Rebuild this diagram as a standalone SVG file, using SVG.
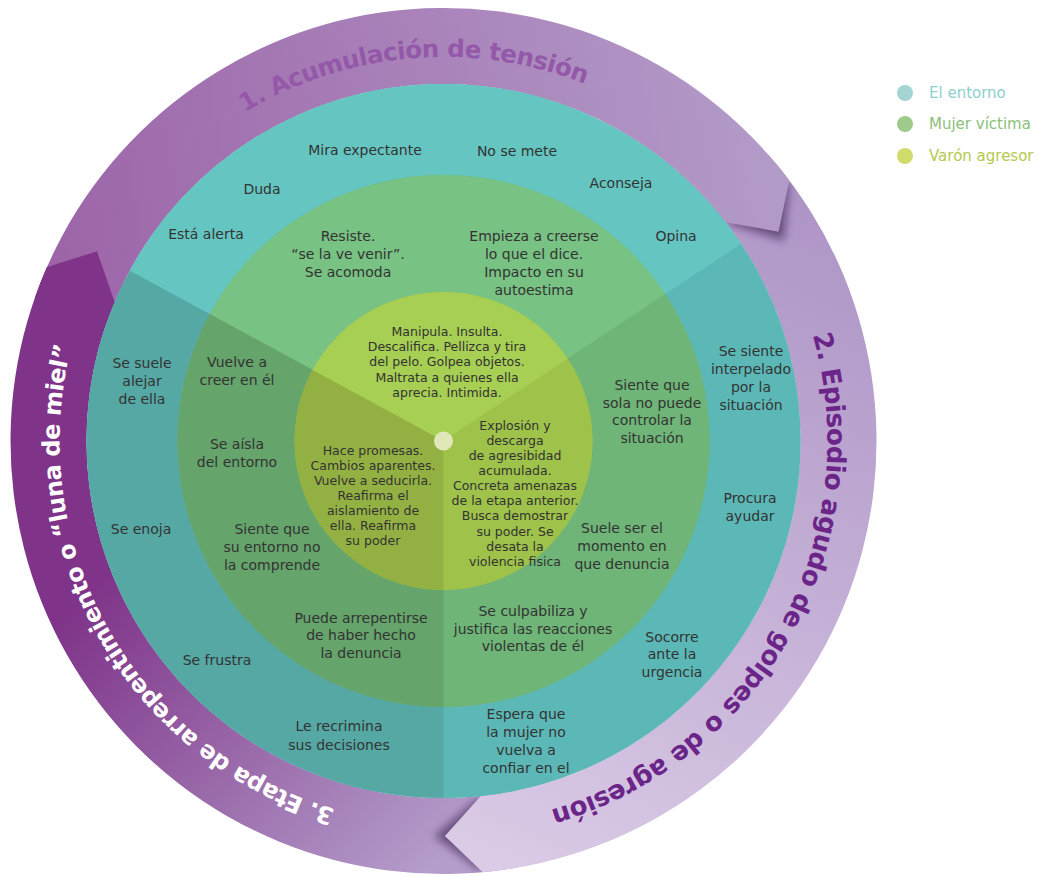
<svg xmlns="http://www.w3.org/2000/svg" width="1045" height="876" viewBox="0 0 1045 876">
<defs>
<linearGradient id="g1" gradientUnits="userSpaceOnUse" x1="40" y1="300" x2="790" y2="150"><stop offset="0" stop-color="#9c63a7"/><stop offset="1" stop-color="#b39cc9"/></linearGradient>
<linearGradient id="g2" gradientUnits="userSpaceOnUse" x1="800" y1="200" x2="500" y2="870"><stop offset="0" stop-color="#ae95c6"/><stop offset="1" stop-color="#dacbe6"/></linearGradient>
<linearGradient id="g3" gradientUnits="userSpaceOnUse" x1="420" y1="880" x2="100" y2="580"><stop offset="0" stop-color="#b49dca"/><stop offset="1" stop-color="#7f3489"/></linearGradient>
<filter id="blur" x="-50%" y="-50%" width="200%" height="200%"><feGaussianBlur stdDeviation="4"/></filter>
<clipPath id="ringclip"><circle cx="443.5" cy="441" r="433"/></clipPath>
<path id="p1" d="M 245.1 112.2 A 384 384 0 0 1 635.5 108.4"/>
<path id="p2" d="M 812.6 335.2 A 384 384 0 0 1 510.2 819.2"/>
<path id="p3" d="M 335.1 809.4 A 384 384 0 0 1 82.7 309.7"/>
</defs>
<style>
.t{font-family:"DejaVu Sans",sans-serif;font-size:14px;fill:#333;text-anchor:middle}
.s{font-size:12.5px}
.arc{font-family:"DejaVu Sans",sans-serif;font-weight:bold}
.lg{font-family:"DejaVu Sans",sans-serif;font-size:15px}
.shadow{fill:#2a1040;opacity:0.55;filter:url(#blur)}
</style>
<rect width="1045" height="876" fill="#ffffff"/>

<g id="ring">
  <g id="arrow-bodies">
    <path id="body1" fill="url(#g1)" d="M 38.45 287.95 A 433 433 0 0 1 789.31 180.41 L 725.59 222.19 A 357 357 0 0 0 107.82 319.48 Z"/>
    <path id="body2" fill="url(#g2)" d="M 775.20 162.67 A 433 433 0 0 1 482.74 872.22 L 480.82 796.04 A 357 357 0 0 0 713.75 207.73 Z"/>
    <path id="body3" fill="url(#g3)" d="M 505.26 869.57 A 433 433 0 0 1 47.02 266.96 L 114.64 302.08 A 357 357 0 0 0 499.35 793.61 Z"/>
  </g>
  <g id="arrow-shadows" clip-path="url(#ringclip)">
    <path class="shadow" d="M 789.31 180.41 L 783.84 240.52 L 725.59 222.19 Z"/>
    <path class="shadow" d="M 482.74 872.22 L 434.54 835.90 L 480.82 796.04 Z"/>
  </g>
  <g id="arrow-caps">
    <path fill="url(#g1)" d="M 767.80 154.09 A 433 433 0 0 1 789.31 180.41 L 778.48 231.68 L 725.59 222.19 A 357 357 0 0 0 707.55 200.74 Z"/>
    <path fill="url(#g2)" d="M 516.46 867.81 A 433 433 0 0 1 482.74 872.22 L 444.88 836.0 L 480.82 796.04 A 357 357 0 0 0 508.56 792.02 Z"/>
    <path fill="url(#g3)" d="M 34.58 298.60 A 433 433 0 0 1 47.02 266.96 L 97.03 251.31 L 114.64 302.08 A 357 357 0 0 0 104.75 328.31 Z"/>
  </g>
  <g id="ring-labels">
    <text id="label1" class="arc" font-size="24.5" letter-spacing="-0.5" fill="#9458a9"><textPath href="#p1">1. Acumulación de tensión</textPath></text>
    <text id="label2" class="arc" font-size="26" letter-spacing="-0.5" fill="#6b2488"><textPath href="#p2">2. Episodio agudo de golpes o de agresión</textPath></text>
    <text id="label3" class="arc" font-size="24" letter-spacing="-0.6" fill="#ffffff"><textPath href="#p3">3. Etapa de arrepentimiento o “luna de miel”</textPath></text>
  </g>
</g>

<g id="entorno">
  <circle cx="443.5" cy="441" r="357" fill="#5cb8b6"/>
  <path fill="#65c6c1" d="M 443.5 441 L 129.76 270.65 A 357 357 0 0 1 741.20 243.96 Z"/>
  <path fill="#5cb8b6" d="M 443.5 441 L 741.20 243.96 A 357 357 0 0 1 443.5 798 Z"/>
  <path fill="#56a8a5" d="M 443.5 441 L 443.5 798 A 357 357 0 0 1 129.76 270.65 Z"/>
</g>
<g id="mujer">
  <circle cx="443.5" cy="441" r="266" fill="#6eb577"/>
  <path fill="#78c283" d="M 443.5 441 L 209.73 314.08 A 266 266 0 0 1 665.31 294.18 Z"/>
  <path fill="#6eb577" d="M 443.5 441 L 665.31 294.18 A 266 266 0 0 1 443.5 707 Z"/>
  <path fill="#65a46b" d="M 443.5 441 L 443.5 707 A 266 266 0 0 1 209.73 314.08 Z"/>
</g>
<g id="agresor">
  <circle cx="443.5" cy="441" r="149" fill="#9ec24a"/>
  <path fill="#a7cf53" d="M 443.5 441 L 312.56 369.90 A 149 149 0 0 1 567.75 358.76 Z"/>
  <path fill="#9ec24a" d="M 443.5 441 L 567.75 358.76 A 149 149 0 0 1 443.5 590 Z"/>
  <path fill="#93b142" d="M 443.5 441 L 443.5 590 A 149 149 0 0 1 312.56 369.90 Z"/>
</g>
<g id="center-dot"><circle cx="443.5" cy="441" r="9.5" fill="#dfe8b6"/></g>

<g id="texts-entorno-1">
  <text class="t" x="365" y="155">Mira expectante</text>
  <text class="t" x="517" y="156">No se mete</text>
  <text class="t" x="262" y="194">Duda</text>
  <text class="t" x="621" y="188">Aconseja</text>
  <text class="t" x="206" y="239">Está alerta</text>
  <text class="t" x="676" y="241">Opina</text>
</g>
<g id="texts-entorno-2">
  <text class="t" y="356"><tspan x="751">Se siente</tspan><tspan x="751" dy="18">interpelado</tspan><tspan x="751" dy="18">por la</tspan><tspan x="751" dy="18">situación</tspan></text>
  <text class="t" y="503"><tspan x="750">Procura</tspan><tspan x="750" dy="18">ayudar</tspan></text>
  <text class="t" y="641.5"><tspan x="672">Socorre</tspan><tspan x="672" dy="17.7">ante la</tspan><tspan x="672" dy="17.7">urgencia</tspan></text>
  <text class="t" y="718.5"><tspan x="526">Espera que</tspan><tspan x="526" dy="18">la mujer no</tspan><tspan x="526" dy="18">vuelva a</tspan><tspan x="526" dy="18">confiar en el</tspan></text>
</g>
<g id="texts-entorno-3">
  <text class="t" y="368"><tspan x="142">Se suele</tspan><tspan x="142" dy="18">alejar</tspan><tspan x="142" dy="18">de ella</tspan></text>
  <text class="t" x="141" y="534">Se enoja</text>
  <text class="t" x="217" y="665">Se frustra</text>
  <text class="t" y="731"><tspan x="339">Le recrimina</tspan><tspan x="339" dy="18.5">sus decisiones</tspan></text>
</g>
<g id="texts-mujer-1">
  <text class="t" y="241"><tspan x="348">Resiste.</tspan><tspan x="348" dy="18">“se la ve venir”.</tspan><tspan x="348" dy="18">Se acomoda</tspan></text>
  <text class="t" y="241"><tspan x="534">Empieza a creerse</tspan><tspan x="534" dy="18">lo que el dice.</tspan><tspan x="534" dy="18">Impacto en su</tspan><tspan x="534" dy="18">autoestima</tspan></text>
</g>
<g id="texts-mujer-2">
  <text class="t" y="390"><tspan x="652">Siente que</tspan><tspan x="652" dy="17.7">sola no puede</tspan><tspan x="652" dy="17.7">controlar la</tspan><tspan x="652" dy="17.7">situación</tspan></text>
  <text class="t" y="533"><tspan x="622">Suele ser el</tspan><tspan x="622" dy="18">momento en</tspan><tspan x="622" dy="18">que denuncia</tspan></text>
  <text class="t" y="616"><tspan x="533">Se culpabiliza y</tspan><tspan x="533" dy="17.5">justifica las reacciones</tspan><tspan x="533" dy="17.5">violentas de él</tspan></text>
</g>
<g id="texts-mujer-3">
  <text class="t" y="367"><tspan x="237">Vuelve a</tspan><tspan x="237" dy="18">creer en él</tspan></text>
  <text class="t" y="449"><tspan x="237">Se aísla</tspan><tspan x="237" dy="18">del entorno</tspan></text>
  <text class="t" y="534"><tspan x="272">Siente que</tspan><tspan x="272" dy="18">su entorno no</tspan><tspan x="272" dy="18">la comprende</tspan></text>
  <text class="t" y="622.5"><tspan x="361">Puede arrepentirse</tspan><tspan x="361" dy="17.5">de haber hecho</tspan><tspan x="361" dy="17.5">la denuncia</tspan></text>
</g>
<g id="texts-agresor-1">
  <text class="t s" y="336"><tspan x="447">Manipula. Insulta.</tspan><tspan x="447" dy="15.2">Descalifica. Pellizca y tira</tspan><tspan x="447" dy="15.2">del pelo. Golpea objetos.</tspan><tspan x="447" dy="15.2">Maltrata a quienes ella</tspan><tspan x="447" dy="15.2">aprecia. Intimida.</tspan></text>
</g>
<g id="texts-agresor-2">
  <text class="t s" y="429.5"><tspan x="515">Explosión y</tspan><tspan x="515" dy="15.15">descarga</tspan><tspan x="515" dy="15.15">de agresibidad</tspan><tspan x="515" dy="15.15">acumulada.</tspan><tspan x="515" dy="15.15">Concreta amenazas</tspan><tspan x="515" dy="15.15">de la etapa anterior.</tspan><tspan x="515" dy="15.15">Busca demostrar</tspan><tspan x="515" dy="15.15">su poder. Se</tspan><tspan x="515" dy="15.15">desata la</tspan><tspan x="515" dy="15.15">violencia fisica</tspan></text>
</g>
<g id="texts-agresor-3">
  <text class="t s" y="454.5"><tspan x="373">Hace promesas.</tspan><tspan x="373" dy="15">Cambios aparentes.</tspan><tspan x="373" dy="15">Vuelve a seducirla.</tspan><tspan x="373" dy="15">Reafirma el</tspan><tspan x="373" dy="15">aislamiento de</tspan><tspan x="373" dy="15">ella. Reafirma</tspan><tspan x="373" dy="15">su poder</tspan></text>
</g>

<g id="legend">
  <g id="legend-entorno"><circle cx="905" cy="93" r="8" fill="#a5d4d5"/><text class="lg" x="929" y="98" fill="#8ecfcf">El entorno</text></g>
  <g id="legend-mujer"><circle cx="905" cy="124" r="8" fill="#9ecb8b"/><text class="lg" x="929" y="129" fill="#8cbf7b">Mujer víctima</text></g>
  <g id="legend-agresor"><circle cx="905" cy="156" r="8" fill="#cfdc6b"/><text class="lg" x="929" y="161" fill="#b5c94f">Varón agresor</text></g>
</g>
</svg>
